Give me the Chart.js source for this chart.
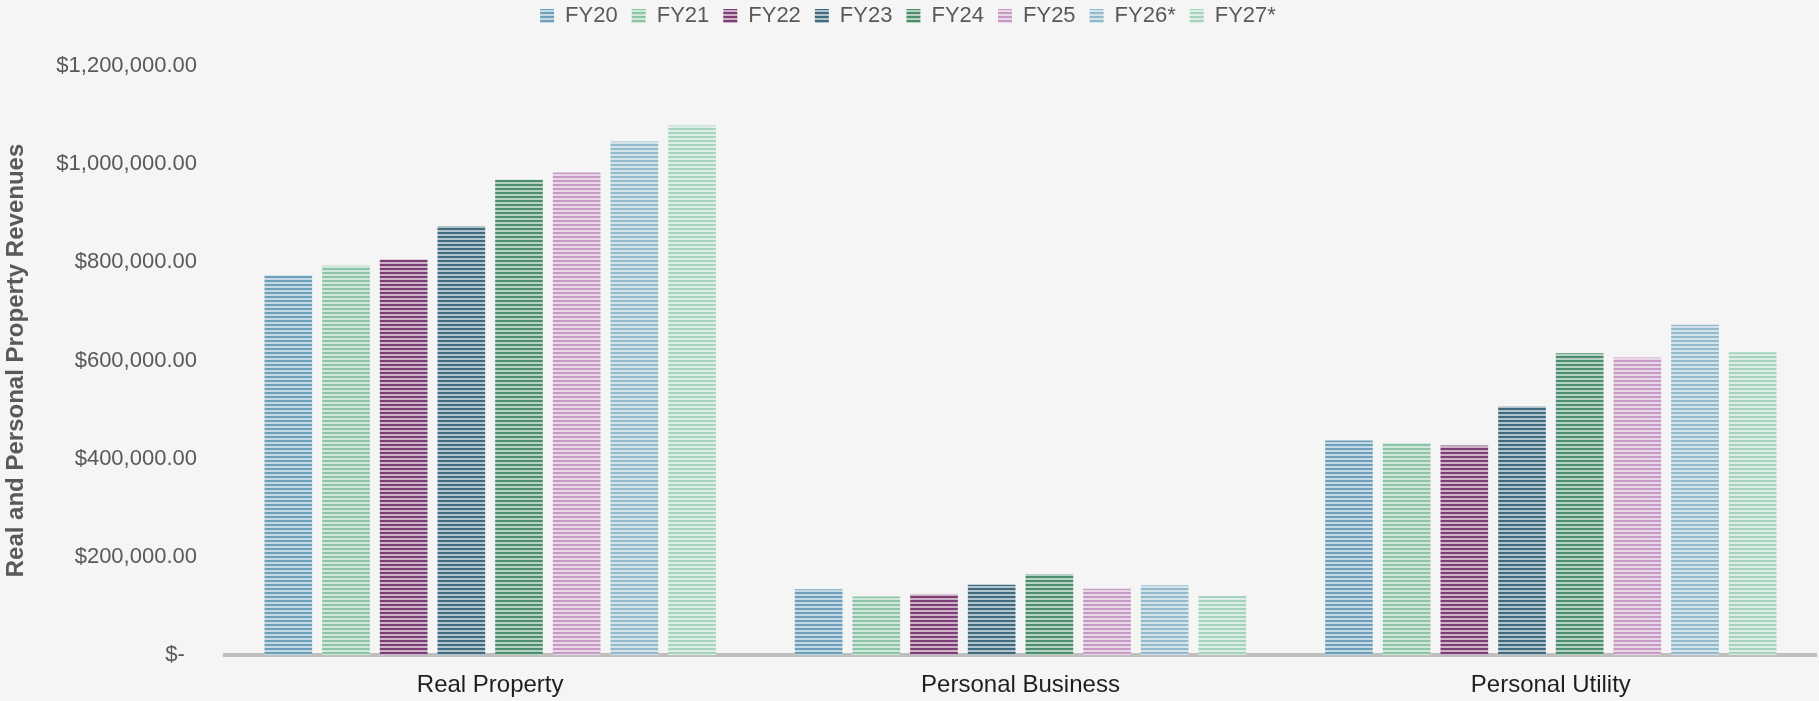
<!DOCTYPE html>
<html>
<head>
<meta charset="utf-8">
<script src="https://cdn.jsdelivr.net/npm/chart.js@4.4.1/dist/chart.umd.min.js"></script>
<style>
  html, body { margin: 0; padding: 0; background: #f5f5f5; }
  #wrap { width: 1819px; height: 701px; position: relative; }
</style>
</head>
<body>
<div id="wrap"><canvas id="chart"></canvas></div>
<script>
// ---- Data ---------------------------------------------------------------

const CATEGORIES = ['Real Property', 'Personal Business', 'Personal Utility'];
const YEARS = ['FY20', 'FY21', 'FY22', 'FY23', 'FY24', 'FY25', 'FY26*', 'FY27*'];

const FY20 = [773000, 134000, 437000];
const FY21 = [793000, 119000, 432000];
const FY22 = [806000, 124000, 427000];
const FY23 = [874000, 143000, 507000];
const FY24 = [968000, 165000, 615000];
const FY25 = [983000, 135000, 606000];
const FY26 = [1046000, 142000, 673000];
const FY27 = [1079000, 120000, 617000];

const Y_TICKS = ['$-  ', '$200,000.00', '$400,000.00', '$600,000.00', '$800,000.00', '$1,000,000.00', '$1,200,000.00'];
const Y_TITLE = 'Real and Personal Property Revenues';

const COLORS = ['#6b9fba', '#8cc4a6', '#7c3e74', '#3f6a80', '#4a8e6e', '#c79ac5', '#93bacb', '#a5d3bd'];

const FONT = "'Liberation Sans', Arial, sans-serif";

// ---- Striped fills ------------------------------------------------------

function mixWhite(hex, t) {
    const n = parseInt(hex.slice(1), 16);
    const r = (n >> 16) & 255, g = (n >> 8) & 255, b = n & 255;
    const m = (c) => Math.round(c + (255 - c) * t);
    return `rgb(${m(r)}, ${m(g)}, ${m(b)})`;
}

function stripes(color) {
    const c = document.createElement('canvas');
    c.width = 4;
    c.height = 4;
    const g = c.getContext('2d');
    g.fillStyle = mixWhite(color, 0.6);
    g.fillRect(0, 0, 4, 4);
    g.fillStyle = color;
    g.fillRect(0, 0, 4, 2);
    return g.createPattern(c, 'repeat');
}

// ---- Chart --------------------------------------------------------------

const series = [FY20, FY21, FY22, FY23, FY24, FY25, FY26, FY27];

const datasets = series.map((values, i) => ({
    label: YEARS[i],
    data: values,
    backgroundColor: stripes(COLORS[i]),
    borderWidth: 0,
    categoryPercentage: 0.87,
    barPercentage: 0.827,
}));

// Fix the legend band height so the plot starts where the reference does.
const legendFit = {
    id: 'legendFit',
    beforeInit(chart) {
        const fit = chart.legend.fit;
        chart.legend.fit = function () {
            fit.call(this);
            this.height = 75;
        };
    },
};

new Chart(document.getElementById('chart'), {
    type: 'bar',
    data: { labels: CATEGORIES, datasets },
    plugins: [legendFit],
    options: {
        responsive: true,
        maintainAspectRatio: false,
        animation: false,
        layout: { padding: { top: -9, right: 3, left: 0, bottom: 0 } },
        plugins: {
            legend: {
                position: 'top',
                labels: {
                    boxWidth: 14,
                    boxHeight: 14,
                    padding: 14,
                    color: '#595959',
                    font: { family: FONT, size: 22 },
                },
            },
            tooltip: { enabled: false },
        },
        scales: {
            x: {
                z: 1,
                grid: { display: false, drawTicks: false },
                border: { display: true, color: '#bfbfbf', width: 4 },
                ticks: {
                    color: '#1f1f1f',
                    padding: 16,
                    font: { family: FONT, size: 24 },
                },
                afterFit: (scale) => { scale.height = 46; },
            },
            y: {
                min: 0,
                max: 1200000,
                grid: { display: false, drawTicks: false },
                border: { display: false },
                ticks: {
                    stepSize: 200000,
                    color: '#595959',
                    padding: 28,
                    font: { family: FONT, size: 22 },
                    callback: (value, index) => Y_TICKS[index],
                },
                title: {
                    display: true,
                    text: Y_TITLE,
                    color: '#595959',
                    padding: { top: 2, bottom: 0 },
                    font: { family: FONT, size: 24, weight: 'bold' },
                },
                afterFit: (scale) => { scale.width = 225; },
            },
        },
    },
});
</script>
</body>
</html>
